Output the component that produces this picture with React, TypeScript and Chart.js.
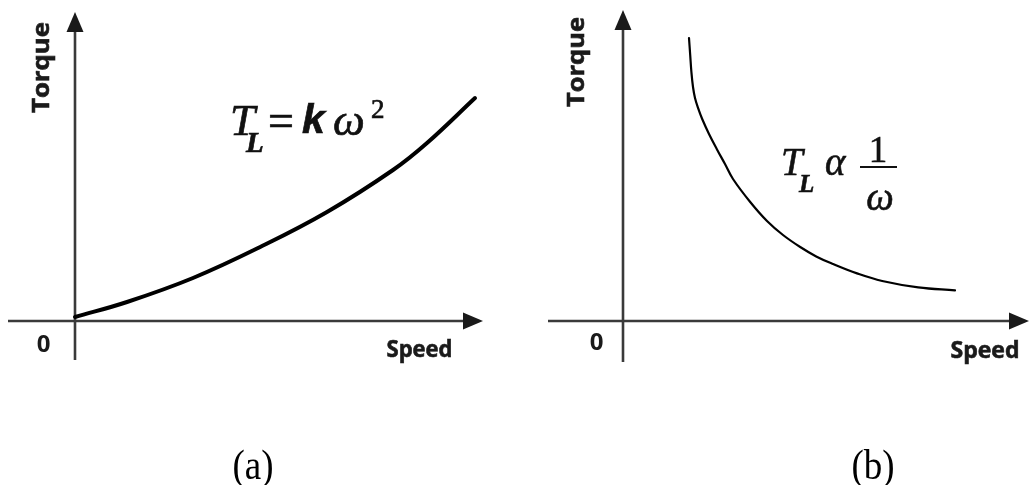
import React, { useEffect, useRef } from "react";
import { Chart, registerables } from "chart.js";

Chart.register(...registerables);

// ---- Data (arbitrary units) ----
// Panel (a): T_L = k·ω²  (torque rising with speed)
const speedA = [0, 1.3, 2.95, 4.63, 6.3, 7.95, 8.8, 10];
const torqueA = [0.2, 0.95, 2.15, 3.7, 5.45, 7.55, 8.9, 11.15];

// Panel (b): T_L ∝ 1/ω  (torque falling with speed)
const speedB = [
  1.65, 1.68, 1.71, 1.75, 1.8, 1.88, 1.98, 2.15, 2.35, 2.55, 2.75, 3.18, 3.6, 4.0,
  4.43, 4.83, 5.25, 5.85, 6.48, 7.38, 8.3,
];
const torqueB = [
  14.15, 13.3, 12.45, 11.7, 11.15, 10.63, 10.1, 9.35, 8.58, 7.85, 7.1, 5.95, 5.0, 4.3,
  3.7, 3.23, 2.85, 2.38, 2.0, 1.68, 1.53,
];

// ---- Text ----
const xAxisTitle = "Speed";
const yAxisTitle = "Torque";
const originTick = "0";
const captionA = "(a)";
const captionB = "(b)";

const W = 515;
const H = 485;
const LABEL_FONT = "'Open Sans', Lato, 'Liberation Sans', sans-serif";
const SERIF = "'Liberation Serif', 'DejaVu Serif', serif";

type Panel = {
  speed: number[];
  torque: number[];
  lineWidth: number;
  xMin: number;
  xMax: number;
  yMin: number;
  yMax: number;
  xAxisFrom: number;
  xAxisTo: number;
  yAxisFrom: number;
  yAxisTo: number;
  torqueLabel: { x: number; y: number; w: number };
  zeroLabel: { x: number; y: number };
  speedLabel: { x: number; y: number; w: number };
  caption: { text: string; x: number; y: number };
  formula: (ctx: CanvasRenderingContext2D) => void;
};

function arrowLine(ctx: CanvasRenderingContext2D, x1: number, y1: number, x2: number, y2: number) {
  const len = 20;
  const half = 8.5;
  const ang = Math.atan2(y2 - y1, x2 - x1);
  const bx = x2 - Math.cos(ang) * len;
  const by = y2 - Math.sin(ang) * len;
  ctx.beginPath();
  ctx.moveTo(x1, y1);
  ctx.lineTo(bx + Math.cos(ang) * 2, by + Math.sin(ang) * 2);
  ctx.stroke();
  ctx.beginPath();
  ctx.moveTo(x2, y2);
  ctx.lineTo(bx - Math.sin(ang) * half, by + Math.cos(ang) * half);
  ctx.lineTo(bx + Math.sin(ang) * half, by - Math.cos(ang) * half);
  ctx.closePath();
  ctx.fill();
}

function fitText(
  ctx: CanvasRenderingContext2D,
  text: string,
  x: number,
  y: number,
  targetW: number,
  rotate: boolean
) {
  const m = ctx.measureText(text).width;
  const sx = targetW / m;
  ctx.save();
  ctx.translate(x, y);
  if (rotate) ctx.rotate(-Math.PI / 2);
  ctx.scale(sx, 1);
  ctx.textAlign = "center";
  ctx.textBaseline = "alphabetic";
  ctx.fillText(text, 0, 0);
  ctx.lineWidth = 0.6;
  ctx.strokeStyle = ctx.fillStyle as string;
  ctx.strokeText(text, 0, 0);
  ctx.restore();
}

function glyph(ctx: CanvasRenderingContext2D, font: string, text: string, x: number, y: number, align: CanvasTextAlign = "left") {
  ctx.font = font;
  ctx.textAlign = align;
  ctx.fillText(text, x, y);
  ctx.strokeText(text, x, y);
}

function formulaA(ctx: CanvasRenderingContext2D) {
  ctx.fillStyle = "#111";
  ctx.strokeStyle = "#111";
  ctx.lineWidth = 0.7;
  ctx.textBaseline = "alphabetic";
  glyph(ctx, `italic 45px ${SERIF}`, "T", 230, 135);
  glyph(ctx, `italic bold 29px ${SERIF}`, "L", 246, 152);
  glyph(ctx, `46px ${SERIF}`, "=", 268, 136);
  glyph(ctx, `italic bold 41px 'Liberation Sans', sans-serif`, "k", 302, 133);
  glyph(ctx, `italic 45px ${SERIF}`, "ω", 333, 135);
  glyph(ctx, `27px ${SERIF}`, "2", 371, 118);
}

function formulaB(ctx: CanvasRenderingContext2D) {
  const ox = -515;
  ctx.fillStyle = "#111";
  ctx.strokeStyle = "#111";
  ctx.lineWidth = 0.6;
  ctx.textBaseline = "alphabetic";
  glyph(ctx, `italic 39px ${SERIF}`, "T", 781 + ox, 175);
  glyph(ctx, `italic bold 25px ${SERIF}`, "L", 799 + ox, 192);
  glyph(ctx, `italic 39px ${SERIF}`, "α", 825 + ox, 175);
  ctx.lineWidth = 2;
  ctx.beginPath();
  ctx.moveTo(860 + ox, 167);
  ctx.lineTo(897 + ox, 167);
  ctx.stroke();
  ctx.lineWidth = 0.6;
  glyph(ctx, `37px ${SERIF}`, "1", 878 + ox, 162, "center");
  glyph(ctx, `italic 39px ${SERIF}`, "ω", 880 + ox, 210, "center");
}

const panelA: Panel = {
  speed: speedA,
  torque: torqueA,
  lineWidth: 4,
  xMin: -1.875,
  xMax: 11.0,
  yMin: -8.2,
  yMax: 16.05,
  xAxisFrom: -1.675,
  xAxisTo: 10.2,
  yAxisFrom: -1.95,
  yAxisTo: 15.45,
  torqueLabel: { x: 49, y: 67.5, w: 91 },
  zeroLabel: { x: 43.5, y: 352 },
  speedLabel: { x: 419.5, y: 357, w: 66 },
  caption: { text: captionA, x: 253, y: 479 },
  formula: formulaA,
};

const panelB: Panel = {
  speed: speedB,
  torque: torqueB,
  lineWidth: 2.2,
  xMin: -2.7,
  xMax: 10.175,
  yMin: -8.2,
  yMax: 16.05,
  xAxisFrom: -1.875,
  xAxisTo: 10.15,
  yAxisFrom: -2.05,
  yAxisTo: 15.55,
  torqueLabel: { x: 69, y: 62, w: 90 },
  zeroLabel: { x: 81.5, y: 350 },
  speedLabel: { x: 470, y: 358, w: 69 },
  caption: { text: captionB, x: 358, y: 479 },
  formula: formulaB,
};

function makeChart(canvas: HTMLCanvasElement, p: Panel) {
  const decor = {
    id: "decor",
    beforeDatasetsDraw(chart: any) {
      const ctx: CanvasRenderingContext2D = chart.ctx;
      const xs = chart.scales.x;
      const ys = chart.scales.y;
      const x0 = xs.getPixelForValue(0);
      const y0 = ys.getPixelForValue(0);
      ctx.save();
      ctx.strokeStyle = "#3a3a3a";
      ctx.fillStyle = "#1a1a1a";
      ctx.lineWidth = 2.6;
      arrowLine(ctx, xs.getPixelForValue(p.xAxisFrom), y0, xs.getPixelForValue(p.xAxisTo), y0);
      arrowLine(ctx, x0, ys.getPixelForValue(p.yAxisFrom), x0, ys.getPixelForValue(p.yAxisTo));
      ctx.restore();
    },
    afterDraw(chart: any) {
      const ctx: CanvasRenderingContext2D = chart.ctx;
      ctx.save();
      ctx.fillStyle = "#1a1a1a";
      ctx.font = `bold 23px ${LABEL_FONT}`;
      fitText(ctx, yAxisTitle, p.torqueLabel.x, p.torqueLabel.y, p.torqueLabel.w, true);
      fitText(ctx, xAxisTitle, p.speedLabel.x, p.speedLabel.y, p.speedLabel.w, false);
      ctx.font = `bold 24px ${LABEL_FONT}`;
      ctx.textAlign = "center";
      ctx.textBaseline = "alphabetic";
      ctx.fillText(originTick, p.zeroLabel.x, p.zeroLabel.y);
      p.formula(ctx);
      ctx.restore();
      ctx.save();
      ctx.fillStyle = "#000";
      ctx.font = `37px ${SERIF}`;
      ctx.textAlign = "center";
      ctx.textBaseline = "alphabetic";
      ctx.translate(p.caption.x, p.caption.y);
      ctx.scale(1, 1.12);
      ctx.fillText(p.caption.text, 0, 0);
      ctx.restore();
    },
  };

  return new Chart(canvas, {
    type: "scatter",
    data: {
      datasets: [
        {
          data: p.speed.map((s, i) => ({ x: s, y: p.torque[i] })),
          showLine: true,
          borderColor: "#000",
          backgroundColor: "#000",
          borderWidth: p.lineWidth,
          pointRadius: 0,
          tension: 0.4,
          borderCapStyle: "round",
          borderJoinStyle: "round",
        } as any,
      ],
    },
    options: {
      animation: false,
      responsive: false,
      devicePixelRatio: 1,
      layout: { padding: 0 },
      plugins: { legend: { display: false }, tooltip: { enabled: false } },
      events: [],
      scales: {
        x: { type: "linear", min: p.xMin, max: p.xMax, display: false },
        y: { type: "linear", min: p.yMin, max: p.yMax, display: false },
      },
    },
    plugins: [decor],
  });
}

function PanelCanvas({ panel, left }: { panel: Panel; left: number }) {
  const ref = useRef<HTMLCanvasElement | null>(null);
  useEffect(() => {
    if (!ref.current) return;
    const chart = makeChart(ref.current, panel);
    return () => chart.destroy();
  }, [panel]);
  return (
    <canvas
      ref={ref}
      width={W}
      height={H}
      style={{ position: "absolute", left, top: 0, width: W, height: H }}
    />
  );
}

export default function App() {
  return (
    <div
      style={{
        position: "fixed",
        left: 0,
        top: 0,
        width: 1030,
        height: 485,
        background: "#fff",
        overflow: "hidden",
      }}
    >
      <PanelCanvas panel={panelA} left={0} />
      <PanelCanvas panel={panelB} left={515} />
    </div>
  );
}
